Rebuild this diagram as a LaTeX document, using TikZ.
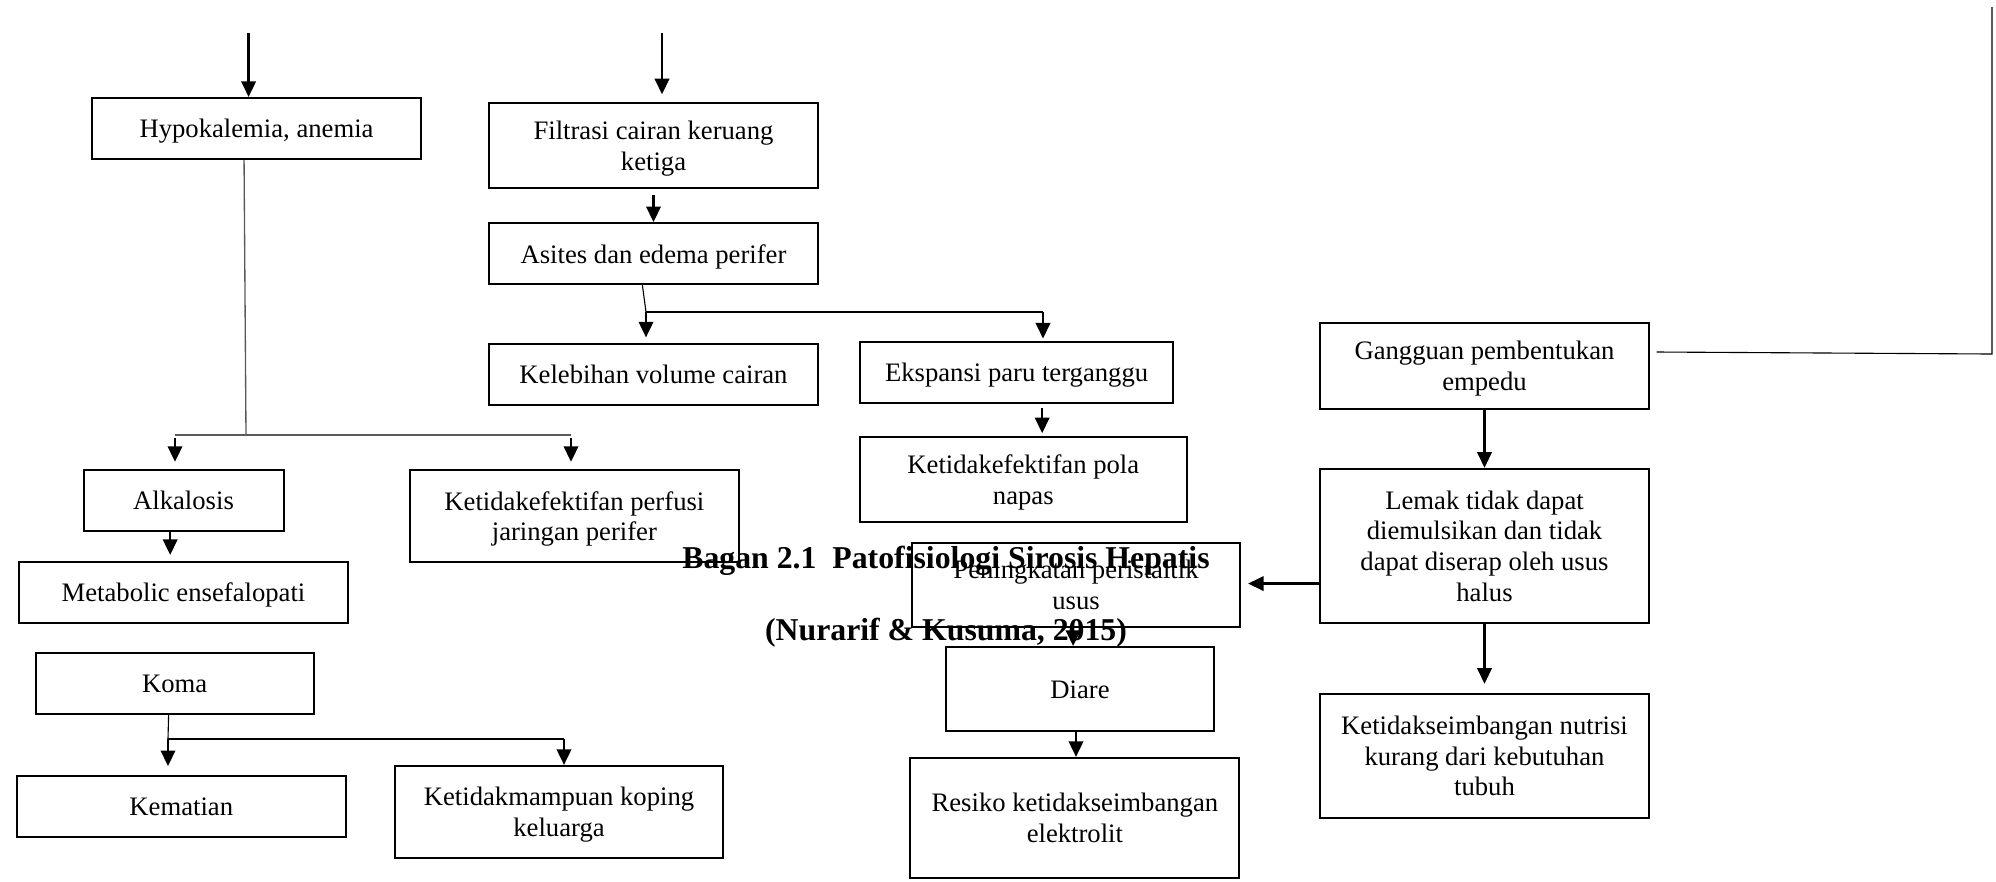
\documentclass[tikz,border=0pt]{standalone}
\usepackage{fontspec}
\setmainfont{Liberation Serif}
\usepackage{tikz}
\usetikzlibrary{positioning,arrows.meta,calc}

\begin{document}
\begin{tikzpicture}[
  x=0.45pt, y=-0.45pt,
  node distance=14pt and 18pt,
  box/.style={draw, line width=0.9pt, align=center, font=\fontsize{12}{13.8}\selectfont, minimum width=148pt, minimum height=27.5pt, inner sep=3pt, text depth=0pt},
  tall/.style={minimum height=38pt},
  arr/.style={-{Triangle[length=7pt,width=6.5pt]}, line width=1pt},
  link/.style={line width=0.5pt},
  greylink/.style={draw=black!65, line width=0.6pt},
  caption/.style={font=\fontsize{14.3}{16}\selectfont\bfseries}
]
  \useasboundingbox (0,0) rectangle (1996,881);

  % left column
  \node[box] (hypo) at (256.5,128.5) {Hypokalemia, anemia};
  \node[box, minimum width=90pt] (alka) at (183.5,500.5) {Alkalosis};
  \node[box, below=13pt of alka] (meta) {Metabolic ensefalopati};
  \node[box, minimum height=41.5pt, below right=0pt and 56pt of alka.north east] (perfusi) {Ketidakefektifan perfusi\\jaringan perifer};
  \node[box, minimum width=125pt, below=12.5pt of meta, xshift=-4pt] (koma) {Koma};
  \node[box, below=27pt of koma, xshift=3pt] (kema) {Kematian};
  \node[box, minimum height=41.5pt] (mampu) at (559,812) {Ketidakmampuan koping\\keluarga};

  % middle column
  \node[box, tall] (filtrasi) at (653.5,145.5) {Filtrasi cairan keruang\\ketiga};
  \node[box, below=15pt of filtrasi] (asites) {Asites dan edema perifer};
  \node[box, below=26pt of asites] (lebih) {Kelebihan volume cairan};
  \node[box, minimum width=141pt, right=18pt of lebih, yshift=1pt] (eksp) {Ekspansi paru terganggu};
  \node[box, tall, minimum width=147pt, below right=14.5pt and 0pt of eksp.south west] (pola) {Ketidakefektifan pola\\napas};
  \node[box, tall] (pening) at (1076,585) {Peningkatan peristaltik\\usus};
  \node[box, tall, minimum width=121pt, below=8pt of pening, xshift=1.8pt] (diare) {Diare};
  \node[box, minimum height=54pt, below=11pt of diare, xshift=-2.3pt] (resiko) {Resiko ketidakseimbangan\\elektrolit};

  % right column
  \node[box, tall, minimum height=38.7pt] (ganggu) at (1484.5,366) {Gangguan pembentukan\\empedu};
  \node[box, minimum height=69.3pt, below=26pt of ganggu] (lemak) {Lemak tidak dapat\\diemulsikan dan tidak\\dapat diserap oleh usus\\halus};
  \node[box, minimum height=56pt, below=31pt of lemak] (nutrisi) {Ketidakseimbangan nutrisi\\kurang dari kebutuhan\\tubuh};

  % free ends and branch points
  \coordinate (inL) at (248.6,33);
  \coordinate (inM) at (662,33);
  \coordinate (splitH) at (246,435);
  \coordinate (hL) at (175,435);
  \coordinate (hR) at (571,435);
  \coordinate (splitA) at (646,312);
  \coordinate (splitB) at (1043,312);
  \coordinate (splitK) at (168,739);
  \coordinate (kR) at (564,739);
  \coordinate (cornerR) at (1992,354);
  \coordinate (topR) at (1992,7);

  \draw[arr] (inL) -- (inL |- hypo.north);
  \draw[arr, shorten >=3.6pt] (inM) -- (inM |- filtrasi.north);
  \draw[arr, shorten <=3pt] (filtrasi) -- (asites);

  \draw[greylink] ([xshift=-5.6pt]hypo.south) -- (splitH);
  \draw[greylink, line width=1pt] (hL) -- (hR);
  \draw[arr, shorten <=1.3pt, shorten >=3.2pt] (hL) -- (hL |- alka.north);
  \draw[arr, shorten <=1.3pt, shorten >=3.2pt] (hR) -- (hR |- perfusi.north);
  \draw[arr, shorten >=2.7pt] ([xshift=-6pt]alka.south) -- ([xshift=-6pt]alka.south |- meta.north);

  \draw[link] ([xshift=-2.7pt]koma.south) -- (splitK);
  \draw[link] (splitK) -- (kR);
  \draw[arr, shorten >=4pt] (splitK) -- (splitK |- kema.north);
  \draw[arr] (kR) -- (kR |- mampu.north);

  \draw[link] ([xshift=-5pt]asites.south) -- (splitA);
  \draw[link] (splitA) -- (splitB);
  \draw[arr, shorten >=2.5pt] (splitA) -- (splitA |- lebih.north);
  \draw[arr, shorten >=1pt] (splitB) -- (splitB |- eksp.north);
  \draw[arr, shorten <=2pt, shorten >=1.3pt] ([xshift=11.5pt]eksp.south) -- ([xshift=11.5pt]eksp.south |- pola.north);

  \draw[arr] (ganggu) -- (lemak);
  \draw[arr, shorten >=4pt] (lemak) -- (nutrisi);
  \draw[arr, shorten >=3pt] ([yshift=-17pt]lemak.west) -- ([yshift=-17pt]lemak.west -| pening.east);
  \draw[arr] ([xshift=-1.3pt]pening.south) -- ([xshift=-1.3pt]pening.south |- diare.north);
  \draw[arr] ([xshift=-1.8pt]diare.south) -- ([xshift=-1.8pt]diare.south |- resiko.north);
  \draw[link] ([xshift=3pt, yshift=6.3pt]ganggu.east) -- (cornerR) -- (topR);

  % caption
  \node[caption] (cap1) at (946,561) {Bagan 2.1\ \ Patofisiologi Sirosis Hepatis};
  \node[caption] (cap2) at (946,633) {(Nurarif \& Kusuma, 2015)};
\end{tikzpicture}
\end{document}
